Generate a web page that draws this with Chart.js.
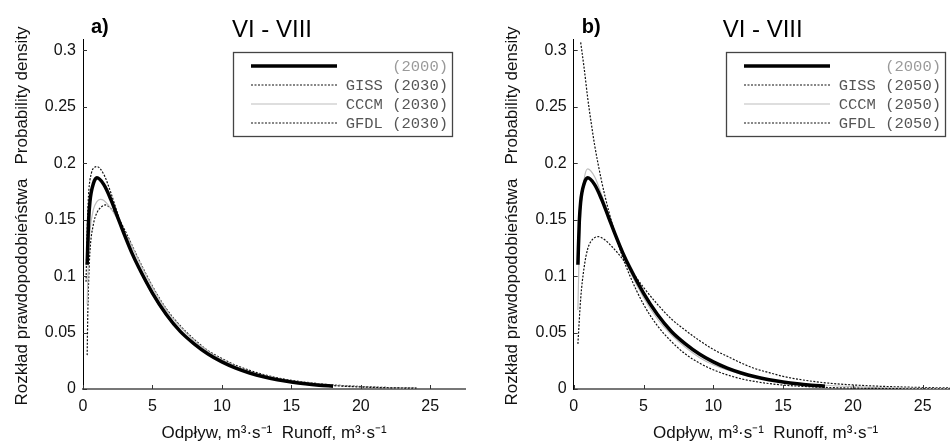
<!DOCTYPE html>
<html>
<head>
<meta charset="utf-8">
<script src="https://cdn.jsdelivr.net/npm/chart.js@4.4.1/dist/chart.umd.min.js"></script>
<style>
  html, body { margin: 0; padding: 0; background: #fff; overflow: hidden; width: 950px; height: 447px; }
  .panel { position: absolute; top: 0; }
  #wrapA { left: 0; }
  #wrapB { left: 475px; }
</style>
</head>
<body>
<div class="panel" id="wrapA"><canvas id="chartA" width="475" height="447"></canvas></div>
<div class="panel" id="wrapB"><canvas id="chartB" width="510" height="447"></canvas></div>
<script>
// axis ticks
var xTicks = [0, 5, 10, 15, 20, 25];
var yTicks = [0, 0.05, 0.1, 0.15, 0.2, 0.25, 0.3];

// observed density (2000), same curve in both panels
var x2000 = [0.3, 0.4, 0.5, 0.75, 1, 1.5, 2, 2.5, 3, 3.5, 4, 5, 6, 7, 8, 9, 10, 11, 12, 13, 14, 15, 16, 17, 18];
var y2000 = [0.110, 0.148, 0.166, 0.182, 0.187, 0.181, 0.168, 0.152, 0.136, 0.121, 0.108, 0.085, 0.066, 0.051, 0.040, 0.031, 0.024, 0.0185, 0.0142, 0.0108, 0.0082, 0.0062, 0.0046, 0.0034, 0.0025];

// panel a) scenarios 2030
var xGiss2030 = [0.22, 0.3, 0.4, 0.6, 0.8, 1, 1.5, 2, 2.5, 3, 3.5, 4, 5, 6, 7, 8, 9, 10, 11, 12, 13, 14, 15, 16, 18, 20, 22, 24];
var yGiss2030 = [0.095, 0.140, 0.172, 0.191, 0.196, 0.197, 0.190, 0.174, 0.155, 0.137, 0.121, 0.107, 0.084, 0.065, 0.051, 0.040, 0.031, 0.024, 0.0188, 0.0145, 0.0112, 0.0086, 0.0066, 0.0051, 0.0030, 0.0018, 0.0011, 0.0007];
var xCccm2030 = [0.3, 0.4, 0.5, 0.75, 1, 1.25, 1.5, 2, 2.5, 3, 3.5, 4, 5, 6, 7, 8, 9, 10, 11, 12, 13, 14, 15, 16, 18, 20, 22, 24];
var yCccm2030 = [0.075, 0.120, 0.140, 0.159, 0.166, 0.168, 0.167, 0.160, 0.150, 0.139, 0.127, 0.114, 0.090, 0.070, 0.055, 0.043, 0.0335, 0.026, 0.020, 0.0155, 0.012, 0.0093, 0.0072, 0.0056, 0.0033, 0.0020, 0.0012, 0.0007];
var xGfdl2030 = [0.3, 0.35, 0.42, 0.5, 0.75, 1, 1.3, 1.6, 2, 2.5, 3, 3.5, 4, 5, 6, 7, 8, 9, 10, 11, 12, 13, 14, 15, 16, 18, 20, 22, 24];
var yGfdl2030 = [0.030, 0.070, 0.100, 0.122, 0.146, 0.156, 0.161, 0.163, 0.160, 0.152, 0.141, 0.128, 0.115, 0.091, 0.071, 0.056, 0.044, 0.034, 0.027, 0.021, 0.0165, 0.0128, 0.0099, 0.0077, 0.0060, 0.0036, 0.0022, 0.0013, 0.0008];

// panel b) scenarios 2050
var xGiss2050 = [0.5, 0.75, 1, 1.25, 1.5, 2, 2.5, 3, 3.5, 4, 5, 6, 7, 8, 9, 10, 11, 12, 13, 14, 15, 16, 18, 20, 23, 26, 28];
var yGiss2050 = [0.307, 0.284, 0.258, 0.236, 0.216, 0.184, 0.158, 0.136, 0.117, 0.101, 0.075, 0.056, 0.042, 0.031, 0.023, 0.017, 0.0125, 0.009, 0.0066, 0.0048, 0.0035, 0.0026, 0.0014, 0.0008, 0.0003, 0.0001, 0.0001];
var xCccm2050 = [0.3, 0.4, 0.5, 0.75, 1, 1.5, 2, 2.5, 3, 3.5, 4, 5, 6, 7, 8, 9, 10, 11, 12, 13, 14, 15, 16, 18, 20, 22, 25, 28];
var yCccm2050 = [0.070, 0.125, 0.155, 0.186, 0.195, 0.188, 0.172, 0.154, 0.136, 0.120, 0.105, 0.081, 0.062, 0.048, 0.037, 0.028, 0.0215, 0.0168, 0.0132, 0.0104, 0.0082, 0.0065, 0.0052, 0.0033, 0.0021, 0.0013, 0.0006, 0.0003];
var xGfdl2050 = [0.3, 0.5, 0.75, 1, 1.25, 1.75, 2.25, 2.75, 3.25, 4, 5, 6, 7, 8, 9, 10, 11, 12, 13, 14, 15, 16, 18, 20, 22, 24, 26, 28];
var yGfdl2050 = [0.040, 0.080, 0.108, 0.124, 0.131, 0.135, 0.132, 0.126, 0.119, 0.107, 0.090, 0.075, 0.062, 0.052, 0.043, 0.035, 0.029, 0.023, 0.018, 0.0145, 0.0112, 0.0088, 0.0055, 0.0036, 0.0024, 0.0016, 0.0011, 0.0007];

var SANS = '"Liberation Sans", Arial, sans-serif';
var MONO = '"Liberation Mono", "Courier New", monospace';
var yTitle = 'Rozkład prawdopodobieństwa   Probability density';
var xTitle = 'Odpływ, m³·s⁻¹  Runoff, m³·s⁻¹';

function pts(xs, ys) {
  return xs.map(function(x, i) { return {x: x, y: ys[i]}; });
}

function series(label, xs, ys, kind) {
  var ds = {label: label, data: pts(xs, ys), borderColor: '#111', borderWidth: 1.2, borderDash: [2, 1.5]};
  if (kind === 'thick') { ds.borderColor = '#000'; ds.borderWidth = 3.5; ds.borderDash = []; }
  if (kind === 'gray') { ds.borderColor = '#bdbdbd'; ds.borderWidth = 1.2; ds.borderDash = []; }
  return ds;
}

// draws panel letter, season title, rotated y title, inward ticks and the boxed legend
var decor = {
  id: 'decor',
  afterDraw: function(chart, args, opts) {
    var ctx = chart.ctx, a = chart.chartArea;
    var sx = chart.scales.x, sy = chart.scales.y;
    ctx.save();
    ctx.strokeStyle = '#333';
    ctx.lineWidth = 1;
    ctx.beginPath();
    xTicks.forEach(function(v) {
      var px = Math.round(sx.getPixelForValue(v)) + 0.5;
      ctx.moveTo(px, a.bottom); ctx.lineTo(px, a.bottom - 4);
    });
    yTicks.forEach(function(v) {
      var py = Math.round(sy.getPixelForValue(v)) + 0.5;
      ctx.moveTo(a.left, py); ctx.lineTo(a.left + 4, py);
    });
    ctx.stroke();

    ctx.fillStyle = '#000';
    ctx.textBaseline = 'middle';
    ctx.textAlign = 'left';
    ctx.font = 'bold 20px ' + SANS;
    ctx.fillText(opts.tag, a.left + 8, a.top - 12);

    ctx.textAlign = 'center';
    ctx.font = '24px ' + SANS;
    ctx.fillText('VI - VIII', a.left + 189, a.top - 9);

    ctx.save();
    ctx.translate(a.left - 61, a.top + 177);
    ctx.rotate(-Math.PI / 2);
    ctx.font = '17px ' + SANS;
    ctx.fillStyle = '#111';
    ctx.fillText(yTitle, 0, 0);
    ctx.restore();

    // legend box
    var bw = 219, bh = 84;
    var bx = Math.round(a.right - 13 - bw), by = Math.round(a.top + 13);
    ctx.fillStyle = '#fff';
    ctx.fillRect(bx, by, bw, bh);
    ctx.strokeStyle = '#444';
    ctx.lineWidth = 1.3;
    ctx.strokeRect(bx + 0.5, by + 0.5, bw, bh);
    chart.data.datasets.forEach(function(ds, i) {
      var ry = by + 14 + i * 19;
      ctx.beginPath();
      ctx.setLineDash(ds.borderDash);
      ctx.lineWidth = ds.borderWidth;
      ctx.strokeStyle = ds.borderColor;
      ctx.moveTo(bx + 18, ry);
      ctx.lineTo(bx + 104, ry);
      ctx.stroke();
      ctx.setLineDash([]);
      ctx.font = '15.5px ' + MONO;
      ctx.textAlign = 'right';
      ctx.fillStyle = i === 0 ? '#9a9a9a' : '#555';
      ctx.fillText(ds.label, bx + bw - 4, ry + 1);
    });
    ctx.restore();
  }
};

function makeChart(id, tag, sets, yWidth, padRight) {
  return new Chart(document.getElementById(id), {
    type: 'line',
    data: {datasets: sets},
    options: {
      responsive: false,
      animation: false,
      layout: {padding: {top: 39, right: padRight, left: 0, bottom: 0}},
      elements: {point: {radius: 0}, line: {cubicInterpolationMode: 'monotone'}},
      plugins: {legend: {display: false}, tooltip: {enabled: false}, decor: {tag: tag}},
      scales: {
        x: {
          type: 'linear', min: 0, max: 27.5,
          afterBuildTicks: function(s) { s.ticks = xTicks.map(function(v) { return {value: v}; }); },
          afterFit: function(s) { s.height = 58; },
          grid: {display: false, drawTicks: false},
          border: {color: '#777', width: 2},
          ticks: {color: '#111', padding: 8, font: {family: SANS, size: 16}},
          title: {display: true, text: xTitle, color: '#111', font: {family: SANS, size: 17}, padding: {top: 0, bottom: 3}}
        },
        y: {
          min: 0, max: 0.31,
          afterBuildTicks: function(s) { s.ticks = yTicks.map(function(v) { return {value: v}; }); },
          afterFit: function(s) { s.width = yWidth; },
          grid: {display: false, drawTicks: false},
          border: {color: '#000', width: 1},
          ticks: {color: '#111', padding: 7, font: {family: SANS, size: 16},
                  callback: function(v) { return String(+v.toFixed(2)); }}
        }
      }
    },
    plugins: [decor]
  });
}

makeChart('chartA', 'a)', [
  series('(2000)', x2000, y2000, 'thick'),
  series('GISS (2030)', xGiss2030, yGiss2030, 'dot'),
  series('CCCM (2030)', xCccm2030, yCccm2030, 'gray'),
  series('GFDL (2030)', xGfdl2030, yGfdl2030, 'dot')
], 83, 10);

makeChart('chartB', 'b)', [
  series('(2000)', x2000, y2000, 'thick'),
  series('GISS (2050)', xGiss2050, yGiss2050, 'dot'),
  series('CCCM (2050)', xCccm2050, yCccm2050, 'gray'),
  series('GFDL (2050)', xGfdl2050, yGfdl2050, 'dot')
], 98.7, 27.4);
</script>
</body>
</html>
